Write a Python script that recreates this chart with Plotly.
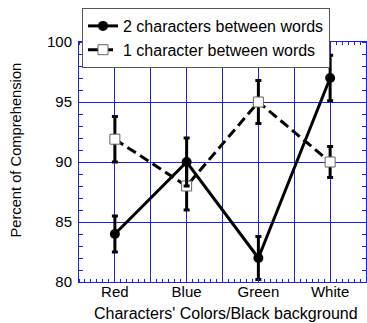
import plotly.graph_objects as go

categories = ["Red", "Blue", "Green", "White"]
two_char = [84, 90, 82, 97]
two_char_err = [1.5, 2.0, 1.8, 1.9]
one_char = [91.9, 88, 95, 90]
one_char_err = [1.9, 2.0, 1.8, 1.3]
y_ticks = [80, 85, 90, 95, 100]

x = list(range(1, len(categories) + 1))
blue = "rgb(30,30,235)"
font = "Liberation Sans, Arial, sans-serif"

fig = go.Figure()
fig.add_trace(go.Scatter(
    x=x, y=one_char, name="1 character between words", mode="lines+markers",
    line=dict(color="black", width=3, dash="10px,5px"),
    marker=dict(symbol="square", size=10, color="white", line=dict(color="#666", width=1)),
    error_y=dict(type="data", array=one_char_err, color="black", thickness=3, width=3),
))
fig.add_trace(go.Scatter(
    x=x, y=two_char, name="2 characters between words", mode="lines+markers",
    line=dict(color="black", width=3),
    marker=dict(symbol="circle", size=10, color="black"),
    error_y=dict(type="data", array=two_char_err, color="black", thickness=3, width=3),
))

tickvals = []
ticktext = []
for i, c in enumerate(categories):
    tickvals += [i + 0.5, i + 1]
    ticktext += ["", c]
tickvals.append(len(categories) + 0.5)
ticktext.append("")

W, H = 367, 323
L, R, T, B = 79, 1, 8, 41
plot_top = 42
paper_h = H - T - B
ydom_top = (H - B - plot_top) / paper_h


def py(px):
    return (H - B - px) / paper_h


def px_(p):
    return (p - L) / (W - L - R)


fig.update_layout(
    width=W, height=H,
    margin=dict(l=L, r=R, t=T, b=B, autoexpand=False),
    paper_bgcolor="white", plot_bgcolor="white",
    font=dict(family=font, size=15, color="black"),
    showlegend=True,
    legend=dict(
        x=px_(82), y=1, xanchor="left", yanchor="top",
        bgcolor="white", bordercolor="#555", borderwidth=1,
        font=dict(size=16), traceorder="reversed",
        tracegroupgap=0, itemwidth=30,
    ),
    xaxis=dict(
        range=[0.5, len(categories) + 0.5], tickvals=tickvals, ticktext=ticktext,
        showgrid=True, gridcolor=blue, gridwidth=1,
        showline=True, linecolor=blue, linewidth=1, mirror="allticks",
        ticks="", zeroline=False, automargin=False, ticklabelstandoff=-4,
        minor=dict(dtick=1/12, ticks="inside", ticklen=3, tickcolor=blue, showgrid=False),
        tickfont=dict(size=15),
    ),
    yaxis=dict(
        range=[80, 100], tickvals=y_ticks, domain=[0, ydom_top],
        showgrid=True, gridcolor=blue, gridwidth=1,
        showline=True, linecolor=blue, linewidth=1, mirror="allticks",
        ticks="", zeroline=False, automargin=False, ticklabelstandoff=3,
        minor=dict(dtick=1, ticks="inside", ticklen=4, tickcolor=blue, showgrid=False),
        tickfont=dict(size=15),
    ),
    annotations=[
        dict(text="Percent of Comprehension", textangle=-90, xref="paper", yref="paper",
             x=px_(15), y=py(150.5), xanchor="center", yanchor="middle", showarrow=False,
             font=dict(size=14.7)),
        dict(text="Characters' Colors/Black background", xref="paper", yref="paper",
             x=px_(225.5), y=py(313), xanchor="center", yanchor="middle", showarrow=False,
             font=dict(size=16)),
    ],
)

fig.write_html(
    "out.html",
    config={"displayModeBar": False},
    post_script="document.body.style.margin='0';document.body.style.padding='0';",
)
